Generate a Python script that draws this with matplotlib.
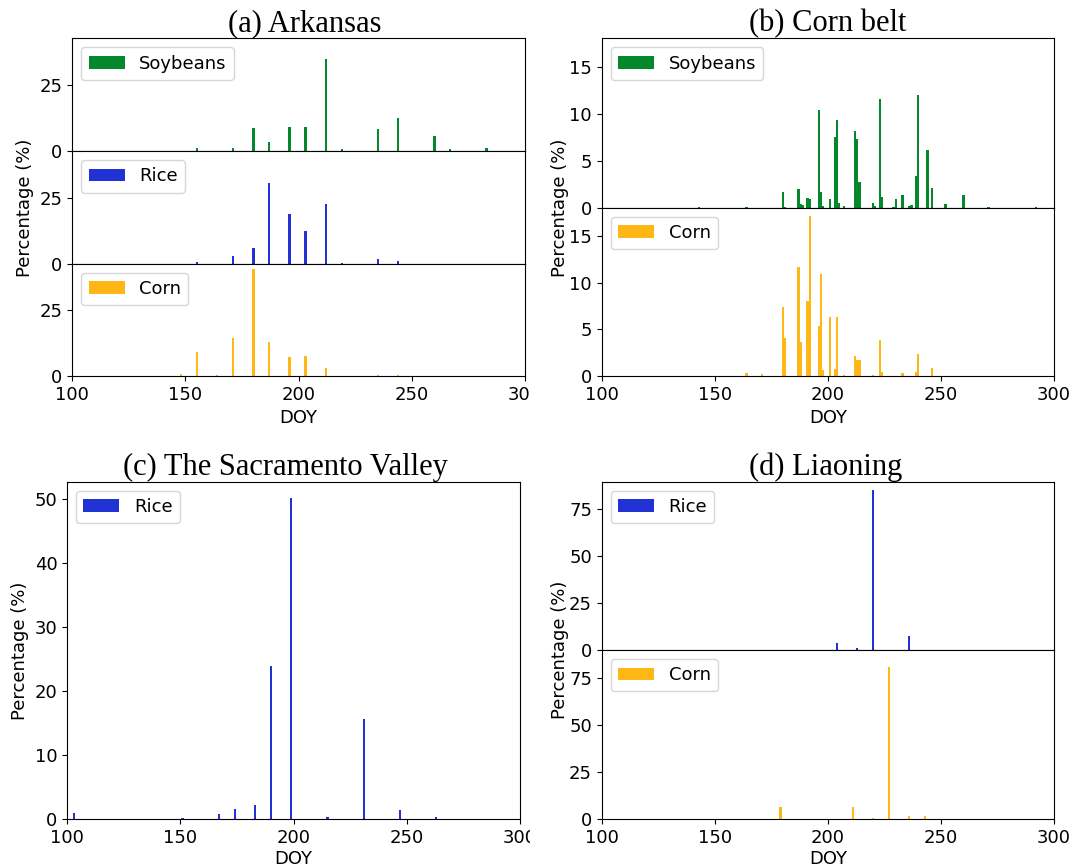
import matplotlib
matplotlib.use("Agg")
import matplotlib.pyplot as plt
from matplotlib.transforms import Bbox, TransformedBbox

plt.rcParams['font.family'] = ['DejaVu Sans']
plt.rcParams['font.size'] = 13

SOY_C = '#05872c'
RICE_C = '#2131d4'
CORN_C = '#ffb716'

# (a) Arkansas
ark_soy_doy = [155, 171, 180, 187, 196, 203, 212, 219, 235, 244, 260, 267, 283]
ark_soy = [1.1, 1.1, 8.9, 3.4, 9.0, 9.0, 34.8, 0.8, 8.2, 12.5, 5.9, 0.6, 1.0]
ark_rice_doy = [155, 171, 180, 187, 196, 203, 212, 219, 235, 244]
ark_rice = [0.5, 2.9, 5.9, 30.6, 18.8, 12.5, 22.7, 0.4, 1.9, 1.1]
ark_corn_doy = [148, 155, 164, 171, 180, 187, 196, 203, 212, 219, 235, 244]
ark_corn = [0.8, 9.0, 0.4, 14.5, 40.8, 12.8, 7.1, 7.7, 3.1, 0.1, 0.2, 0.2]

# (b) Corn belt
cb_soy_doy = [143, 164, 180, 181, 187, 188, 189, 191, 192, 196, 197, 198, 201,
              203, 204, 205, 207, 212, 213, 214, 220, 221, 223, 224, 229, 230,
              233, 236, 237, 239, 240, 244, 246, 252, 260, 271, 292]
cb_soy = [0.1, 0.05, 1.7, 0.1, 2.0, 0.4, 0.3, 1.0, 0.9, 10.4, 1.7, 0.2, 0.9,
          7.5, 9.3, 0.5, 0.2, 8.2, 7.3, 2.75, 0.5, 0.2, 11.6, 1.1, 0.1, 0.9,
          1.4, 0.2, 0.3, 3.4, 12.0, 6.1, 2.1, 0.4, 1.4, 0.1, 0.1]
cb_corn_doy = [145, 164, 171, 180, 181, 187, 188, 191, 192, 196, 197, 198, 201,
               203, 204, 207, 212, 213, 214, 220, 223, 224, 233, 239, 240, 246]
cb_corn = [0.05, 0.36, 0.2, 7.4, 4.1, 11.7, 3.7, 8.0, 17.2, 5.4, 10.9, 0.6, 6.3,
           0.75, 6.3, 0.1, 2.1, 1.7, 1.7, 0.1, 3.9, 0.4, 0.35, 0.4, 2.4, 0.9]

# (c) The Sacramento Valley
sv_rice_doy = [103, 151, 158, 167, 174, 183, 190, 199, 215, 231, 238, 247, 263, 279]
sv_rice = [0.94, 0.2, 0.1, 0.8, 1.6, 2.2, 24.0, 50.2, 0.3, 15.6, 0.1, 1.46, 0.36, 0.1]

# (d) Liaoning
ln_rice_doy = [204, 213, 220, 236]
ln_rice = [3.6, 0.9, 85.5, 7.7]
ln_corn_doy = [179, 211, 220, 227, 236, 243]
ln_corn = [6.6, 6.6, 0.9, 81.0, 2.0, 2.0]

xticks = [100, 150, 200, 250, 300]
W, H = 1073, 868

fig = plt.figure(figsize=(W / 100, H / 100), dpi=100)


def stack(left, width, bottoms, heights):
    axes = []
    first = None
    for b, h in zip(bottoms, heights):
        ax = fig.add_axes([left, b, width, h], sharex=first, sharey=first)
        if first is None:
            first = ax
        axes.append(ax)
    return axes


def draw(ax, doy, vals, color, label):
    ax.bar(doy, vals, width=1.0, color=color, label=label)
    ax.legend(loc='upper left')
    ax.set_xlim(100, 300)
    ax.set_xticks(xticks)


def clip_labels(ax):
    # left column images were cut at ~530 px in the original composite
    box = TransformedBbox(Bbox([[0, 0], [530 / W, 1]]), fig.transFigure)
    for t in ax.xaxis.get_major_ticks():
        t.label1.set_clip_box(box)
        t.label1.set_clip_on(True)


# (a)
a_soy, a_rice, a_corn = stack(0.0674, 0.4219, [0.8260, 0.6962, 0.5668],
                              [0.1299, 0.1298, 0.1294])
draw(a_soy, ark_soy_doy, ark_soy, SOY_C, 'Soybeans')
draw(a_rice, ark_rice_doy, ark_rice, RICE_C, 'Rice')
draw(a_corn, ark_corn_doy, ark_corn, CORN_C, 'Corn')
for ax in (a_soy, a_rice):
    ax.tick_params(axis='x', bottom=False, labelbottom=False)
a_soy.set_yticks([0, 25])
a_rice.set_ylabel('Percentage (%)')
a_corn.set_xlabel('DOY')
a_soy.set_title('(a) Arkansas', family='Liberation Serif', fontsize=22, pad=1, x=0.513)
clip_labels(a_corn)

# (b)
b_soy, b_corn = stack(0.5608, 0.4215, [0.7607, 0.5668], [0.1952, 0.1939])
draw(b_soy, cb_soy_doy, cb_soy, SOY_C, 'Soybeans')
draw(b_corn, cb_corn_doy, cb_corn, CORN_C, 'Corn')
b_soy.tick_params(axis='x', bottom=False, labelbottom=False)
b_soy.set_ylabel('Percentage (%)')
b_soy.yaxis.set_label_coords(-0.073, 0.0)
b_corn.set_xlabel('DOY')
b_soy.set_title('(b) Corn belt', family='Liberation Serif', fontsize=22, pad=1)

# (c)
c_ax = fig.add_axes([0.0625, 0.0561, 0.4222, 0.3889])
draw(c_ax, sv_rice_doy, sv_rice, RICE_C, 'Rice')
c_ax.set_ylabel('Percentage (%)')
c_ax.set_xlabel('DOY', labelpad=2)
c_ax.set_title('(c) The Sacramento Valley', family='Liberation Serif', fontsize=22,
               pad=1, x=0.483)
clip_labels(c_ax)

# (d)
d_rice, d_corn = stack(0.5608, 0.4215, [0.2512, 0.0561], [0.1939, 0.1951])
draw(d_rice, ln_rice_doy, ln_rice, RICE_C, 'Rice')
draw(d_corn, ln_corn_doy, ln_corn, CORN_C, 'Corn')
d_rice.tick_params(axis='x', bottom=False, labelbottom=False)
d_rice.set_yticks([0, 25, 50, 75])
d_rice.set_ylabel('Percentage (%)')
d_rice.yaxis.set_label_coords(-0.073, 0.0)
d_corn.set_xlabel('DOY', labelpad=2)
d_rice.set_title('(d) Liaoning', family='Liberation Serif', fontsize=22, pad=1, x=0.495)

fig.savefig('out.png', dpi=100)
